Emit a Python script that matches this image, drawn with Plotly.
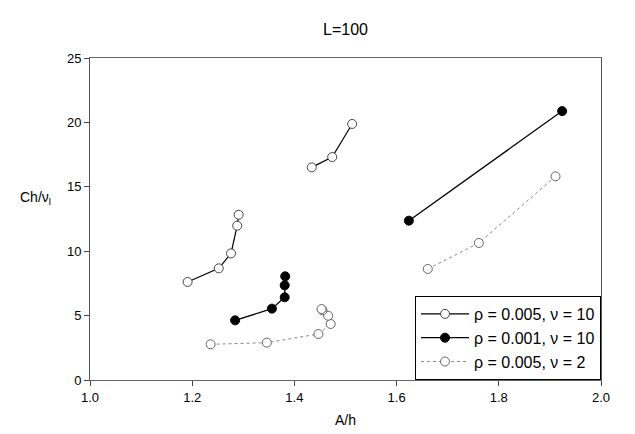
import plotly.graph_objects as go

# Series data (None breaks the line between separate segments)
s1_x = [1.191, 1.252, 1.276, 1.288, 1.291, None, 1.434, 1.474, 1.513]
s1_y = [7.61, 8.67, 9.83, 11.98, 12.83, None, 16.51, 17.31, 19.88]

s2_x = [1.284, 1.356, 1.381, 1.381, 1.382, None, 1.624, 1.924]
s2_y = [4.63, 5.54, 6.42, 7.35, 8.05, None, 12.37, 20.88]

s3_x = [1.236, 1.346, 1.447, 1.471, 1.466, 1.455, 1.453, None, 1.661, 1.761, 1.911]
s3_y = [2.77, 2.90, 3.57, 4.35, 4.99, 5.41, 5.51, None, 8.62, 10.64, 15.81]

names = ["ρ = 0.005, ν = 10", "ρ = 0.001, ν = 10", "ρ = 0.005, ν = 2"]

x_ticks = [1.0, 1.2, 1.4, 1.6, 1.8, 2.0]
y_ticks = [0, 5, 10, 15, 20, 25]

fig = go.Figure()
fig.add_trace(go.Scatter(
    x=s1_x, y=s1_y, name=names[0], mode="lines+markers",
    line=dict(color="black", width=1.2),
    marker=dict(symbol="circle", size=9, color="white",
                line=dict(color="#333333", width=0.9)),
    connectgaps=False))
fig.add_trace(go.Scatter(
    x=s2_x, y=s2_y, name=names[1], mode="lines+markers",
    line=dict(color="black", width=1.3),
    marker=dict(symbol="circle", size=9, color="black",
                line=dict(color="black", width=1)),
    connectgaps=False))
fig.add_trace(go.Scatter(
    x=s3_x, y=s3_y, name=names[2], mode="lines+markers",
    line=dict(color="#888888", width=1, dash="dot"),
    marker=dict(symbol="circle", size=9, color="white",
                line=dict(color="#555555", width=0.9)),
    connectgaps=False))

font = "Liberation Sans, Arial, sans-serif"
fig.update_layout(
    width=635, height=434,
    margin=dict(l=82, r=42, t=50, b=62),
    paper_bgcolor="white", plot_bgcolor="white",
    font=dict(family=font, size=12, color="black"),
    title=dict(text="L=100", x=0.5, xref="paper", xanchor="center",
               y=1 - 21 / 434, yanchor="middle",
               font=dict(size=16, family=font)),
    showlegend=True,
    legend=dict(x=1, y=0, xanchor="right", yanchor="bottom",
                bordercolor="black", borderwidth=1, bgcolor="white",
                font=dict(size=16, family=font),
                tracegroupgap=0, itemwidth=48),
    xaxis=dict(range=[1.0, 2.0], tickvals=x_ticks,
               ticktext=[f"{v:.1f}" for v in x_ticks],
               showgrid=False, zeroline=False, showline=True,
               linecolor="#666666", linewidth=1, mirror=True,
               ticks="outside", ticklen=5, tickcolor="#444444",
               tickfont=dict(size=13, family=font)),
    yaxis=dict(range=[0, 25], tickvals=y_ticks,
               showgrid=False, zeroline=False, showline=True,
               linecolor="#555555", linewidth=1, mirror=True,
               ticks="outside", ticklen=5, tickcolor="#444444",
               tickfont=dict(size=13, family=font)),
    annotations=[
        dict(text="A/h", xref="paper", yref="paper", x=0.5, y=-40 / 322,
             xanchor="center", yanchor="middle", showarrow=False,
             font=dict(size=14, family=font)),
        dict(text="Ch/ν<sub>l</sub>", xref="paper", yref="paper",
             x=-72 / 511, y=(372 - 190) / 322, xanchor="left",
             yanchor="middle", showarrow=False,
             font=dict(size=14, family=font)),
    ],
)

fig.write_html("out.html")
